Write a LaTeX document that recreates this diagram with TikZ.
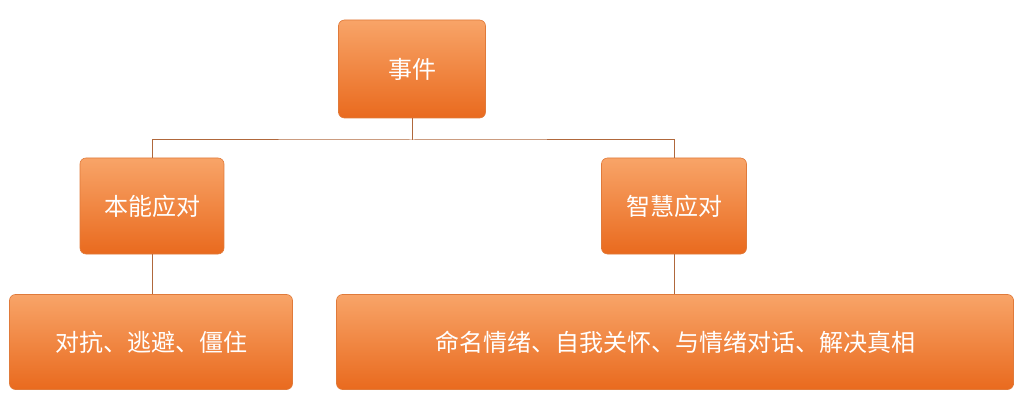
\documentclass[tikz,border=0pt]{standalone}
\usepackage{fontspec}
\setmainfont{Noto Sans CJK SC}
\begin{document}
\begin{tikzpicture}[x=1pt,y=-1pt,
  box/.style={rounded corners=6pt,top color=orange1,bottom color=orange2,draw=orange3,line width=0.6pt,text=white,font=\fontsize{24}{28}\selectfont,inner sep=0pt,anchor=center},
  link/.style={draw=lineC,line width=1pt}]
\definecolor{orange1}{HTML}{F8A468}
\definecolor{orange2}{HTML}{E96A1E}
\definecolor{orange3}{HTML}{E07A3A}
\definecolor{lineC}{HTML}{B0683C}
\useasboundingbox[fill=white] (0,0) rectangle (1024,403);
\node[box,minimum width=147pt,minimum height=98pt] (a) at (412,69) {事件};
\node[box,minimum width=144pt,minimum height=96pt] (b) at (152,206) {本能应对};
\node[box,minimum width=145pt,minimum height=96pt] (c) at (674,206) {智慧应对};
\node[box,minimum width=283pt,minimum height=95pt] (d) at (151,342) {对抗、逃避、僵住};
\node[box,minimum width=677pt,minimum height=95pt] (e) at (675,342) {命名情绪、自我关怀、与情绪对话、解决真相};
\coordinate (m) at (412,140);
\draw[link] (a.south) -- (m);
\draw[link] (b.north) |- (m) -| (c.north);
\draw[link] (b.south) -- (b.south |- d.north);
\draw[link] (c.south) -- (c.south |- e.north);
\end{tikzpicture}
\end{document}
